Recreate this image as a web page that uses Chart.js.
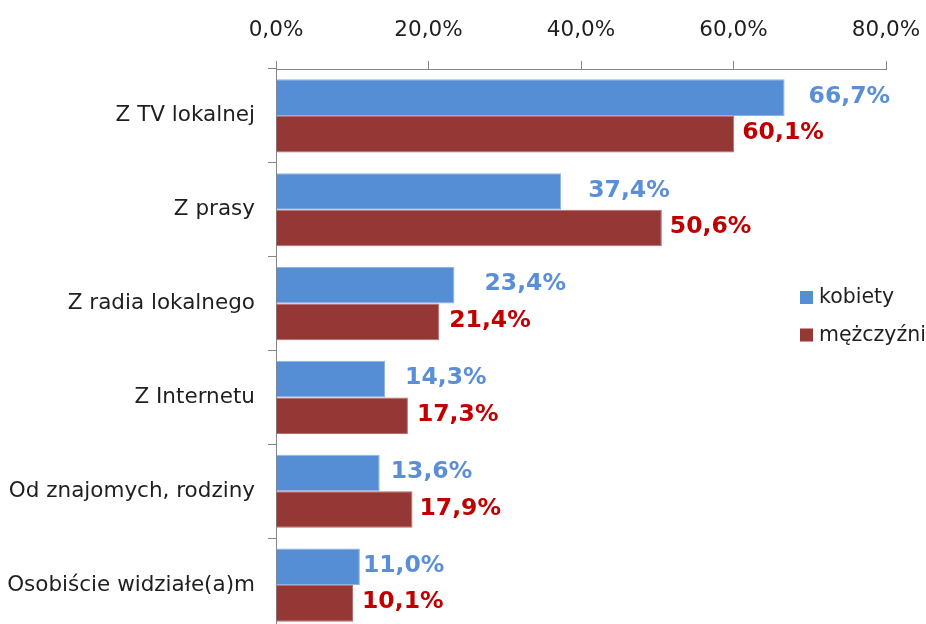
<!DOCTYPE html>
<html>
<head>
<meta charset="utf-8">
<script src="https://cdn.jsdelivr.net/npm/chart.js@4/dist/chart.umd.min.js"></script>
<style>
  html, body { margin: 0; padding: 0; background: #fff; overflow: hidden; }
  canvas { display: block; }
</style>
</head>
<body>
<canvas id="barChart" width="926" height="632"></canvas>
<script>
// Skąd respondenci się dowiedzieli - kobiety vs mężczyźni
const categories = ['Z TV lokalnej', 'Z prasy', 'Z radia lokalnego', 'Z Internetu',
  'Od znajomych, rodziny', 'Osobiście widziałe(a)m'];
const kobiety = [66.7, 37.4, 23.4, 14.3, 13.6, 11.0];
const mezczyzni = [60.1, 50.6, 21.4, 17.3, 17.9, 10.1];
const axisMin = 0;
const axisMax = 80;
const axisStep = 20;

// labels in the original were nudged by hand, so keep the offsets per bar
const nudgeK = [24, 27, 30, 20, 11, 3];
const nudgeM = [8, 8, 10, 9, 7, 9];

const fmt = v => v.toFixed(1).replace('.', ',') + '%';

Chart.defaults.font.family = 'DejaVu Sans';
Chart.defaults.font.size = 21.5;
Chart.defaults.color = '#1f1f1f';

// value labels at the bar ends
const valueLabels = {
  id: 'valueLabels',
  afterDatasetsDraw(chart) {
    const ctx = chart.ctx;
    ctx.save();
    ctx.font = 'bold 23.5px "DejaVu Sans"';
    ctx.textAlign = 'left';
    ctx.textBaseline = 'middle';
    chart.data.datasets.forEach((ds, di) => {
      const meta = chart.getDatasetMeta(di);
      meta.data.forEach((bar, i) => {
        ctx.fillStyle = ds.labelColor;
        ctx.fillText(fmt(ds.data[i]), bar.x + ds.nudge[i], bar.y - 1);
      });
    });
    ctx.restore();
  }
};

// legend sitting inside the plot, on the right
const insideLegend = {
  id: 'insideLegend',
  afterDraw(chart) {
    const ctx = chart.ctx;
    const area = chart.chartArea;
    const x = area.right - 86;
    let y = 298;
    ctx.save();
    ctx.font = '20.5px "DejaVu Sans"';
    ctx.textBaseline = 'middle';
    chart.data.datasets.forEach(ds => {
      ctx.fillStyle = ds.backgroundColor;
      ctx.fillRect(x, y - 7, 13, 13);
      ctx.fillStyle = '#1f1f1f';
      ctx.fillText(ds.label, x + 19, y);
      y += 37.5;
    });
    ctx.restore();
  }
};

const noPad = scale => {
  scale.paddingLeft = 0;
  scale.paddingRight = 0;
  scale.paddingTop = 0;
  scale.paddingBottom = 0;
};

const ctx = document.getElementById('barChart').getContext('2d');
const barChart = new Chart(ctx, {
  type: 'bar',
  data: {
    labels: categories,
    datasets: [
      {
        label: 'kobiety',
        data: kobiety,
        backgroundColor: '#558ed5',
        borderColor: '#8fb2e3',
        borderWidth: 1,
        labelColor: '#5a8fd8',
        nudge: nudgeK
      },
      {
        label: 'mężczyźni',
        data: mezczyzni,
        backgroundColor: '#953735',
        borderColor: '#b66d6b',
        borderWidth: 1,
        labelColor: '#c00000',
        nudge: nudgeM
      }
    ]
  },
  options: {
    indexAxis: 'y',
    responsive: false,
    animation: false,
    layout: { padding: { left: 0, right: 40, top: 0, bottom: 0 } },
    datasets: {
      bar: { categoryPercentage: 0.78, barPercentage: 1.0 }
    },
    scales: {
      x: {
        position: 'top',
        min: axisMin,
        max: axisMax,
        ticks: {
          stepSize: axisStep,
          padding: 18,
          color: '#1f1f1f',
          callback: v => fmt(v)
        },
        grid: {
          drawOnChartArea: false,
          drawTicks: true,
          tickLength: 8,
          color: '#868686'
        },
        border: { color: '#868686', width: 1 },
        afterFit(scale) { scale.height = 69; noPad(scale); }
      },
      y: {
        ticks: { padding: 13, color: '#1f1f1f' },
        grid: {
          offset: true,
          drawOnChartArea: false,
          drawTicks: true,
          tickLength: 8,
          color: '#868686'
        },
        border: { color: '#868686', width: 1 },
        afterFit(scale) { scale.width = 276; noPad(scale); }
      }
    },
    plugins: {
      legend: { display: false },
      tooltip: { enabled: false }
    }
  },
  plugins: [valueLabels, insideLegend]
});
</script>
</body>
</html>
